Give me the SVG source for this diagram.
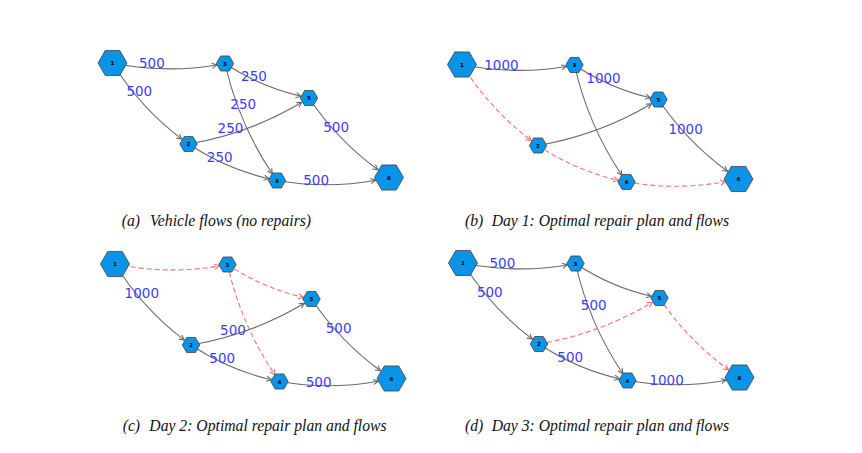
<svg xmlns="http://www.w3.org/2000/svg" width="862" height="453" viewBox="0 0 862 453">
<style>
.e{fill:none;stroke:#6a6a6a;stroke-width:1.1;marker-end:url(#ag)}
.r{fill:none;stroke:#ff6e6e;stroke-width:1.1;stroke-dasharray:5 3;marker-end:url(#ar)}
.n{fill:#0a94e8;stroke:#404040;stroke-width:0.8}
.nl{font-family:"DejaVu Sans",sans-serif;font-size:5.5px;font-weight:bold;fill:#000;text-anchor:middle;dominant-baseline:central}
.lb{font-family:"DejaVu Sans",sans-serif;font-size:13.5px;fill:#3c3cff;text-anchor:middle;dominant-baseline:central}
.cap{font-family:"Liberation Serif",serif;font-style:italic;font-size:15.7px;fill:#111}
</style>
<defs>
<marker id="ag" viewBox="-6 -4 7 8" refX="0" refY="0" markerWidth="7" markerHeight="8" markerUnits="userSpaceOnUse" orient="auto"><path d="M-5,-2.6 L0,0 L-5,2.6" fill="none" stroke="#6a6a6a" stroke-width="1.1"/></marker>
<marker id="ar" viewBox="-6 -4 7 8" refX="0" refY="0" markerWidth="7" markerHeight="8" markerUnits="userSpaceOnUse" orient="auto"><path d="M-5,-2.6 L0,0 L-5,2.6" fill="none" stroke="#ff6e6e" stroke-width="1.1"/></marker>
</defs>
<rect width="862" height="453" fill="#fff"/>

<!-- Panel a -->
<g id="panel-a" transform="translate(112.5,63)">
<g id="a-connectors">
<path class="e" d="M0,0 Q52.1,10.7 104.4,2.0"/>
<path class="e" d="M0,0 Q27.7,44.6 69.3,76.1"/>
<path class="e" d="M112.5,0.5 Q147.6,23.9 188.4,33.3"/>
<path class="e" d="M112.5,0.5 Q125.9,60.2 159.8,110.7"/>
<path class="e" d="M76,81 Q136.8,70.7 189.4,39.3"/>
<path class="e" d="M76,81 Q113.2,105.8 156.4,115.8"/>
<path class="e" d="M196.5,35 Q224.8,77.1 265.5,106.8"/>
<path class="e" d="M164.5,117.5 Q214.1,126.1 263.3,117.2"/>
<text class="lb" x="39.4" y="0">500</text>
<text class="lb" x="26.8" y="28">500</text>
<text class="lb" x="141.5" y="13">250</text>
<text class="lb" x="130.7" y="41">250</text>
<text class="lb" x="118" y="65.4">250</text>
<text class="lb" x="107.2" y="94">250</text>
<text class="lb" x="223.6" y="63.5">500</text>
<text class="lb" x="203.6" y="117">500</text>
</g>
<g id="a-n1" transform="translate(0,0)"><polygon class="n" points="-14.5,0 -7.25,-12.56 7.25,-12.56 14.5,0 7.25,12.56 -7.25,12.56"/><text class="nl">1</text></g>
<g id="a-n2" transform="translate(76,81)"><polygon class="n" points="-8.7,0 -4.35,-7.53 4.35,-7.53 8.7,0 4.35,7.53 -4.35,7.53"/><text class="nl">2</text></g>
<g id="a-n3" transform="translate(112.5,0.5)"><polygon class="n" points="-8.7,0 -4.35,-7.53 4.35,-7.53 8.7,0 4.35,7.53 -4.35,7.53"/><text class="nl">3</text></g>
<g id="a-n4" transform="translate(164.5,117.5)"><polygon class="n" points="-8.7,0 -4.35,-7.53 4.35,-7.53 8.7,0 4.35,7.53 -4.35,7.53"/><text class="nl">4</text></g>
<g id="a-n5" transform="translate(196.5,35)"><polygon class="n" points="-8.7,0 -4.35,-7.53 4.35,-7.53 8.7,0 4.35,7.53 -4.35,7.53"/><text class="nl">5</text></g>
<g id="a-n6" transform="translate(276.5,114.5)"><polygon class="n" points="-14.5,0 -7.25,-12.56 7.25,-12.56 14.5,0 7.25,12.56 -7.25,12.56"/><text class="nl">6</text></g>
</g>

<!-- Panel b -->
<g id="panel-b" transform="translate(462,64.5)">
<g id="b-connectors">
<path class="e" d="M0,0 Q52.1,10.7 104.4,2.0"/>
<path class="r" d="M0,0 Q27.7,44.6 69.3,76.1"/>
<path class="e" d="M112.5,0.5 Q147.6,23.9 188.4,33.3"/>
<path class="e" d="M112.5,0.5 Q125.9,60.2 159.8,110.7"/>
<path class="e" d="M76,81 Q136.8,70.7 189.4,39.3"/>
<path class="r" d="M76,81 Q113.2,105.8 156.4,115.8"/>
<path class="e" d="M196.5,35 Q224.8,77.1 265.5,106.8"/>
<path class="r" d="M164.5,117.5 Q214.1,126.1 263.3,117.2"/>
<text class="lb" x="39.4" y="0.5">1000</text>
<text class="lb" x="141.5" y="13.5">1000</text>
<text class="lb" x="223.6" y="64">1000</text>
</g>
<g id="b-n1" transform="translate(0,0)"><polygon class="n" points="-14.5,0 -7.25,-12.56 7.25,-12.56 14.5,0 7.25,12.56 -7.25,12.56"/><text class="nl">1</text></g>
<g id="b-n2" transform="translate(76,81)"><polygon class="n" points="-8.7,0 -4.35,-7.53 4.35,-7.53 8.7,0 4.35,7.53 -4.35,7.53"/><text class="nl">2</text></g>
<g id="b-n3" transform="translate(112.5,0.5)"><polygon class="n" points="-8.7,0 -4.35,-7.53 4.35,-7.53 8.7,0 4.35,7.53 -4.35,7.53"/><text class="nl">3</text></g>
<g id="b-n4" transform="translate(164.5,117.5)"><polygon class="n" points="-8.7,0 -4.35,-7.53 4.35,-7.53 8.7,0 4.35,7.53 -4.35,7.53"/><text class="nl">4</text></g>
<g id="b-n5" transform="translate(196.5,35)"><polygon class="n" points="-8.7,0 -4.35,-7.53 4.35,-7.53 8.7,0 4.35,7.53 -4.35,7.53"/><text class="nl">5</text></g>
<g id="b-n6" transform="translate(276.5,114.5)"><polygon class="n" points="-14.5,0 -7.25,-12.56 7.25,-12.56 14.5,0 7.25,12.56 -7.25,12.56"/><text class="nl">6</text></g>
</g>

<!-- Panel c -->
<g id="panel-c" transform="translate(115,264)">
<g id="c-connectors">
<path class="r" d="M0,0 Q52.1,10.7 104.4,2.0"/>
<path class="e" d="M0,0 Q27.7,44.6 69.3,76.1"/>
<path class="r" d="M112.5,0.5 Q147.6,23.9 188.4,33.3"/>
<path class="r" d="M112.5,0.5 Q125.9,60.2 159.8,110.7"/>
<path class="e" d="M76,81 Q136.8,70.7 189.4,39.3"/>
<path class="e" d="M76,81 Q113.2,105.8 156.4,115.8"/>
<path class="e" d="M196.5,35 Q224.8,77.1 265.5,106.8"/>
<path class="e" d="M164.5,117.5 Q214.1,126.1 263.3,117.2"/>
<text class="lb" x="26.8" y="28.5">1000</text>
<text class="lb" x="118" y="65.8">500</text>
<text class="lb" x="107.2" y="94.3">500</text>
<text class="lb" x="223.6" y="64">500</text>
<text class="lb" x="203.6" y="117.5">500</text>
</g>
<g id="c-n1" transform="translate(0,0)"><polygon class="n" points="-14.5,0 -7.25,-12.56 7.25,-12.56 14.5,0 7.25,12.56 -7.25,12.56"/><text class="nl">1</text></g>
<g id="c-n2" transform="translate(76,81)"><polygon class="n" points="-8.7,0 -4.35,-7.53 4.35,-7.53 8.7,0 4.35,7.53 -4.35,7.53"/><text class="nl">2</text></g>
<g id="c-n3" transform="translate(112.5,0.5)"><polygon class="n" points="-8.7,0 -4.35,-7.53 4.35,-7.53 8.7,0 4.35,7.53 -4.35,7.53"/><text class="nl">3</text></g>
<g id="c-n4" transform="translate(164.5,117.5)"><polygon class="n" points="-8.7,0 -4.35,-7.53 4.35,-7.53 8.7,0 4.35,7.53 -4.35,7.53"/><text class="nl">4</text></g>
<g id="c-n5" transform="translate(196.5,35)"><polygon class="n" points="-8.7,0 -4.35,-7.53 4.35,-7.53 8.7,0 4.35,7.53 -4.35,7.53"/><text class="nl">5</text></g>
<g id="c-n6" transform="translate(276.5,114.5)"><polygon class="n" points="-14.5,0 -7.25,-12.56 7.25,-12.56 14.5,0 7.25,12.56 -7.25,12.56"/><text class="nl">6</text></g>
</g>

<!-- Panel d -->
<g id="panel-d" transform="translate(463,263)">
<g id="d-connectors">
<path class="e" d="M0,0 Q52.1,10.7 104.4,2.0"/>
<path class="e" d="M0,0 Q27.7,44.6 69.3,76.1"/>
<path class="e" d="M112.5,0.5 Q147.6,23.9 188.4,33.3"/>
<path class="e" d="M112.5,0.5 Q125.9,60.2 159.8,110.7"/>
<path class="r" d="M76,81 Q136.8,70.7 189.4,39.3"/>
<path class="e" d="M76,81 Q113.2,105.8 156.4,115.8"/>
<path class="r" d="M196.5,35 Q224.8,77.1 265.5,106.8"/>
<path class="e" d="M164.5,117.5 Q214.1,126.1 263.3,117.2"/>
<text class="lb" x="39.4" y="0.3">500</text>
<text class="lb" x="26.8" y="28.5">500</text>
<text class="lb" x="130.7" y="41.8">500</text>
<text class="lb" x="107.2" y="94.3">500</text>
<text class="lb" x="203.6" y="117">1000</text>
</g>
<g id="d-n1" transform="translate(0,0)"><polygon class="n" points="-14.5,0 -7.25,-12.56 7.25,-12.56 14.5,0 7.25,12.56 -7.25,12.56"/><text class="nl">1</text></g>
<g id="d-n2" transform="translate(76,81)"><polygon class="n" points="-8.7,0 -4.35,-7.53 4.35,-7.53 8.7,0 4.35,7.53 -4.35,7.53"/><text class="nl">2</text></g>
<g id="d-n3" transform="translate(112.5,0.5)"><polygon class="n" points="-8.7,0 -4.35,-7.53 4.35,-7.53 8.7,0 4.35,7.53 -4.35,7.53"/><text class="nl">3</text></g>
<g id="d-n4" transform="translate(164.5,117.5)"><polygon class="n" points="-8.7,0 -4.35,-7.53 4.35,-7.53 8.7,0 4.35,7.53 -4.35,7.53"/><text class="nl">4</text></g>
<g id="d-n5" transform="translate(196.5,35)"><polygon class="n" points="-8.7,0 -4.35,-7.53 4.35,-7.53 8.7,0 4.35,7.53 -4.35,7.53"/><text class="nl">5</text></g>
<g id="d-n6" transform="translate(276.5,114.5)"><polygon class="n" points="-14.5,0 -7.25,-12.56 7.25,-12.56 14.5,0 7.25,12.56 -7.25,12.56"/><text class="nl">6</text></g>
</g>

<!-- Captions -->
<g id="captions">
<text class="cap" x="121.7" y="226">(a)</text>
<text class="cap" x="150" y="226">Vehicle flows (no repairs)</text>
<text class="cap" x="465" y="226">(b)</text>
<text class="cap" x="491.7" y="226">Day 1: Optimal repair plan and flows</text>
<text class="cap" x="122.7" y="430.5">(c)</text>
<text class="cap" x="149.3" y="430.5">Day 2: Optimal repair plan and flows</text>
<text class="cap" x="465" y="430.5">(d)</text>
<text class="cap" x="491.7" y="430.5">Day 3: Optimal repair plan and flows</text>
</g>
</svg>
